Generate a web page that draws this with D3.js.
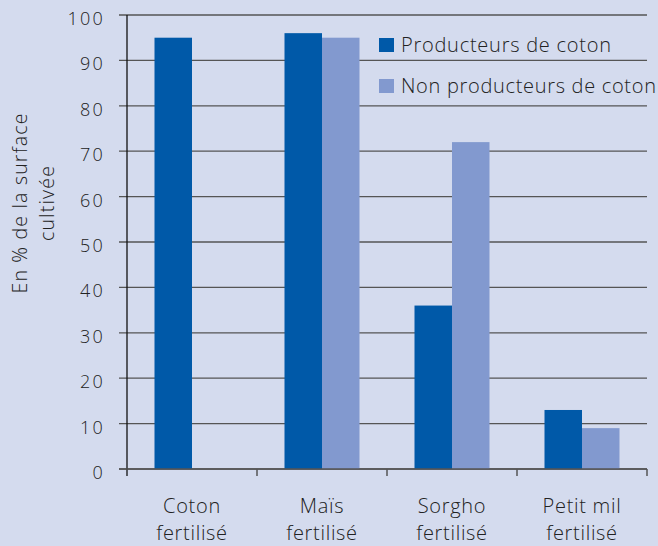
<!DOCTYPE html>
<html><head><meta charset="utf-8">
<script src="https://cdn.jsdelivr.net/npm/d3@7"></script>
<style>
html,body{margin:0;padding:0;background:#d4dbee;}
svg{display:block;font-family:"Open Sans", Lato, sans-serif;font-weight:400;}
</style></head>
<body>
<svg id="chart" width="658" height="546"></svg>
<script>
const categories = [["Coton","fertilisé"],["Maïs","fertilisé"],["Sorgho","fertilisé"],["Petit mil","fertilisé"]];
const seriesNames = ["Producteurs de coton","Non producteurs de coton"];
const producteurs = [95, 96, 36, 13];
const nonProducteurs = [null, 95, 72, 9];
const yTicks = [0,10,20,30,40,50,60,70,80,90,100];
const colors = ["#0059a8","#8299cf"];

const svg = d3.select("#chart");
const W = 658, H = 546;
svg.append("rect").attr("width",W).attr("height",H).attr("fill","#d4dbee");
const x0 = 127, x1 = 647, yTop = 15, yBot = 469;

const x = d3.scaleBand().domain(d3.range(categories.length)).range([x0,x1]).padding(0);
const y = d3.scaleLinear().domain([0,100]).range([yBot,yTop]);
const barW = 37.5;

// fit text to a target width by letter-spacing
function fit(sel, target){
  sel.each(function(d,i){
    const t = typeof target === "function" ? target(d,i) : target;
    const n = this.getNumberOfChars();
    d3.select(this).attr("letter-spacing",0);
    const w = this.getComputedTextLength();
    if(n>1) d3.select(this).attr("letter-spacing", Math.max(0,(t - w)/(n-1)).toFixed(2));
  });
}

// gridlines
svg.append("g").selectAll("line").data(yTicks).join("line")
  .attr("x1",119).attr("x2",x1).attr("y1",d=>y(d)).attr("y2",d=>y(d))
  .attr("stroke","#555").attr("stroke-width",1.3);

// y tick labels
svg.append("g").selectAll("text").data(yTicks).join("text")
  .attr("x",105).attr("y",d=>y(d)+10).attr("text-anchor","end")
  .attr("font-size",18).attr("font-weight",300).attr("letter-spacing",2.2).attr("fill","#222").text(d=>d);

// bars
const series = [producteurs, nonProducteurs];
series.forEach((vals,si)=>{
  svg.append("g").selectAll("rect").data(vals.map((v,i)=>({v,i})).filter(d=>d.v!=null)).join("rect")
    .attr("x",d=>x(d.i)+x.bandwidth()/2 - barW + si*barW)
    .attr("width",barW)
    .attr("y",d=>y(d.v)).attr("height",d=>y(0)-y(d.v))
    .attr("fill",colors[si]);
});

// y axis line
svg.append("line").attr("x1",x0).attr("x2",x0).attr("y1",yTop).attr("y2",476)
  .attr("stroke","#111").attr("stroke-width",1.3);
// x axis line
svg.append("line").attr("x1",119).attr("x2",x1).attr("y1",yBot).attr("y2",yBot)
  .attr("stroke","#555").attr("stroke-width",1.5);
// x ticks
const bounds = d3.range(categories.length+1).map(i=> i<categories.length ? x(i) : x1);
svg.append("g").selectAll("line").data(bounds.slice(1)).join("line")
  .attr("x1",d=>d).attr("x2",d=>d).attr("y1",yBot).attr("y2",476)
  .attr("stroke","#555").attr("stroke-width",1.5);

// x labels
const xl = svg.append("g").selectAll("g").data(categories).join("g");
xl.each(function(d,i){
  const g = d3.select(this);
  d.forEach((line,j)=>{
    g.append("text").attr("x",x(i)+x.bandwidth()/2).attr("y",513+j*27)
      .attr("text-anchor","middle").attr("font-size",20).attr("font-weight",300).attr("fill","#222")
      .attr("letter-spacing",0.7).text(line);
  });
});

// y title
const yt = svg.append("g").attr("transform","translate(0,203) rotate(-90)");
yt.append("text").attr("x",0).attr("y",27).attr("text-anchor","middle").attr("font-size",19.5)
  .attr("font-weight",300).attr("fill","#222").text("En % de la surface").call(fit,180);
yt.append("text").attr("x",0).attr("y",54).attr("text-anchor","middle").attr("font-size",19.5)
  .attr("font-weight",300).attr("fill","#222").text("cultivée").call(fit,75);

// legend
const lg = svg.append("g").selectAll("g").data(seriesNames).join("g")
  .attr("transform",(d,i)=>`translate(379,${38+i*41})`);
lg.append("rect").attr("width",15).attr("height",14).attr("fill",(d,i)=>colors[i]);
lg.append("text").attr("x",22).attr("y",13.5).attr("font-size",20).attr("font-weight",300)
  .attr("fill","#222").text(d=>d).call(fit,(d,i)=> i===0 ? 210 : 255);
</script>
</body></html>
